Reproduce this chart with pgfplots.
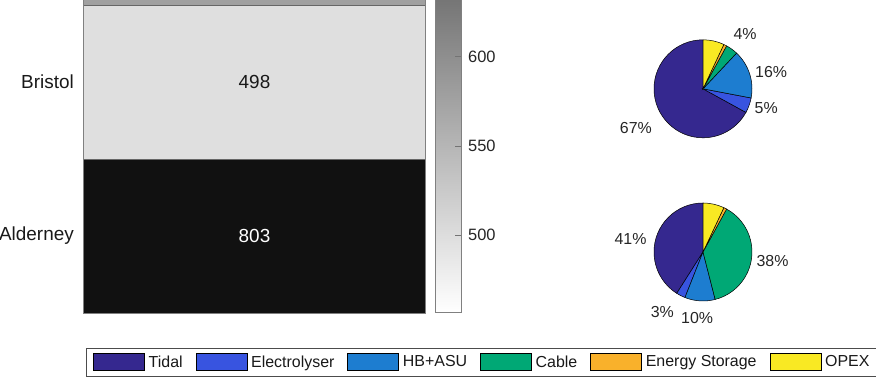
\documentclass[border=0pt]{standalone}
\usepackage{fontspec}
\setmainfont{Liberation Sans}
\usepackage{pgfplots}
\pgfplotsset{compat=1.18}
\usepackage{pgfplotstable}

\definecolor{cTidal}{HTML}{35288F}
\definecolor{cElec}{HTML}{3854E0}
\definecolor{cHB}{HTML}{1D7DD0}
\definecolor{cCable}{HTML}{00A875}
\definecolor{cES}{HTML}{F9B12B}
\definecolor{cOPEX}{HTML}{F9E923}

% heatmap cells (second column lies outside the axis; it only gives the cells a width)
\pgfplotstableread{
x y c
0 1 803
1 1 803
0 2 498
1 2 498
0 3 578
1 3 578
}\heatdata

\pgfplotsset{
  hmcolormap/.style={colormap={hm}{rgb255(0cm)=(255,255,255); rgb255(30.3cm)=(17,17,17); rgb255(34.6cm)=(17,17,17)},
    point meta min=457, point meta max=803},
}

\begin{document}
\begin{tikzpicture}
\path[use as bounding box] (0,0) rectangle (876bp,377bp);
\clip (0,0) rectangle (876bp,377bp);

% ---------------- heatmap
\begin{axis}[
  at={(83.5bp,64bp)}, anchor=south west,
  width=342bp, height=462bp, scale only axis,
  xmin=-0.5, xmax=0.5, ymin=0.5, ymax=3.5,
  xtick=\empty, ytick={1,2,3}, yticklabels={Alderney,Bristol,{}},
  minor ytick={1.5,2.5}, yminorgrids,
  minor grid style={draw=black!60, line width=0.6bp},
  tick style={draw=none}, major tick length=0pt, minor tick length=0pt,
  yticklabel style={font=\fontsize{19}{19}\selectfont, text=black!90, inner sep=0pt, anchor=east, xshift=-9.5bp},
  axis line style={draw=black!50, line width=0.6bp},
  hmcolormap,
  axis on top,
]
\addplot[matrix plot*, mesh/cols=2, point meta=explicit] table[meta=c]{\heatdata};
\addplot[only marks, mark=none, nodes near coords, point meta=explicit symbolic,
  nodes near coords style={anchor=center, inner sep=0pt, font=\fontsize{19}{19}\selectfont, text=white}]
  coordinates {(0,1) [803]};
\addplot[only marks, mark=none, nodes near coords, point meta=explicit symbolic,
  nodes near coords style={anchor=center, inner sep=0pt, font=\fontsize{19}{19}\selectfont, text=black!90}]
  coordinates {(0,2) [498]};
\end{axis}

% ---------------- colorbar
\begin{axis}[
  at={(435bp,65bp)}, anchor=south west,
  width=26bp, height=505.4bp, scale only axis,
  xmin=0, xmax=1, ymin=457, ymax=740,
  xtick=\empty, ytick={500,550,600},
  ytick pos=right, yticklabel pos=right, tick align=inside, major tick length=6bp,
  tick style={draw=black!55, line width=0.6bp},
  yticklabel style={font=\fontsize{16.5}{16.5}\selectfont, text=black!85, inner sep=0pt, anchor=west, xshift=7bp},
  /pgf/number format/assume math mode=true,
  axis line style={draw=black!50, line width=0.6bp},
  hmcolormap,
  axis on top,
]
\addplot[patch, shader=interp, point meta=y]
  coordinates {(0,457) (1,457) (1,740) (0,457) (1,740) (0,740)};
\end{axis}

% ---------------- pies (radius = 1 axis unit = 49bp)
\begin{axis}[
  at={(605bp,27bp)}, anchor=south west,
  width=196bp, height=359.2bp, scale only axis,
  xmin=-2, xmax=2, ymin=-2, ymax=5.33,
  hide axis, clip=false,
  legend columns=6,
  legend image code/.code={\draw[#1] (0bp,-8.5bp) rectangle (51bp,8.5bp);},
  legend style={at={(axis description cs:-2.648,-0.0724)}, anchor=south west,
    draw=black!70, line width=0.5bp, inner xsep=7bp, inner ysep=5bp,
    font=\fontsize{16}{16}\selectfont, text=black!90,
    nodes={inner sep=0pt},
    /tikz/every odd column/.append style={column sep=4bp},
    /tikz/every even column/.append style={column sep=13bp}},
]
% Bristol pie: Tidal 67, Electrolyser 5, HB+ASU 16, Cable 4, Energy Storage 1, OPEX 7 (%)
\addplot[fill=cTidal, draw=black, line width=0.5bp, forget plot] coordinates {(0,3.33)}
  -- ++(90:49bp) arc[start angle=90, end angle=331.2, radius=49bp] -- cycle;
\addplot[fill=cElec, draw=black, line width=0.5bp, forget plot] coordinates {(0,3.33)}
  -- ++(331.2:49bp) arc[start angle=331.2, end angle=349.2, radius=49bp] -- cycle;
\addplot[fill=cHB, draw=black, line width=0.5bp, forget plot] coordinates {(0,3.33)}
  -- ++(349.2:49bp) arc[start angle=349.2, end angle=406.8, radius=49bp] -- cycle;
\addplot[fill=cCable, draw=black, line width=0.5bp, forget plot] coordinates {(0,3.33)}
  -- ++(406.8:49bp) arc[start angle=406.8, end angle=421.2, radius=49bp] -- cycle;
\addplot[fill=cES, draw=black, line width=0.5bp, forget plot] coordinates {(0,3.33)}
  -- ++(421.2:49bp) arc[start angle=421.2, end angle=424.8, radius=49bp] -- cycle;
\addplot[fill=cOPEX, draw=black, line width=0.5bp, forget plot] coordinates {(0,3.33)}
  -- ++(424.8:49bp) arc[start angle=424.8, end angle=450, radius=49bp] -- cycle;
% Alderney pie: Tidal 41, Electrolyser 3, HB+ASU 10, Cable 38, Energy Storage 1, OPEX 7 (%)
\addplot[fill=cTidal, draw=black, line width=0.5bp] coordinates {(0,0)}
  -- ++(90:49bp) arc[start angle=90, end angle=237.6, radius=49bp] -- cycle;
\addlegendentry{Tidal}
\addplot[fill=cElec, draw=black, line width=0.5bp] coordinates {(0,0)}
  -- ++(237.6:49bp) arc[start angle=237.6, end angle=248.4, radius=49bp] -- cycle;
\addlegendentry{Electrolyser}
\addplot[fill=cHB, draw=black, line width=0.5bp] coordinates {(0,0)}
  -- ++(248.4:49bp) arc[start angle=248.4, end angle=284.4, radius=49bp] -- cycle;
\addlegendentry{HB+ASU}
\addplot[fill=cCable, draw=black, line width=0.5bp] coordinates {(0,0)}
  -- ++(284.4:49bp) arc[start angle=284.4, end angle=421.2, radius=49bp] -- cycle;
\addlegendentry{Cable}
\addplot[fill=cES, draw=black, line width=0.5bp] coordinates {(0,0)}
  -- ++(421.2:49bp) arc[start angle=421.2, end angle=424.8, radius=49bp] -- cycle;
\addlegendentry{Energy Storage}
\addplot[fill=cOPEX, draw=black, line width=0.5bp] coordinates {(0,0)}
  -- ++(424.8:49bp) arc[start angle=424.8, end angle=450, radius=49bp] -- cycle;
\addlegendentry{OPEX}
% percentage labels
\addplot[only marks, mark=none, forget plot, nodes near coords, point meta=explicit symbolic,
  nodes near coords style={anchor=center, inner sep=0pt, font=\fontsize{16}{16}\selectfont, text=black!85}]
  coordinates {(0.86,4.44) [4\%] (1.39,3.67) [16\%] (1.29,2.93) [5\%] (-1.37,2.52) [67\%]
               (-1.48,0.26) [41\%] (1.42,-0.19) [38\%] (-0.83,-1.22) [3\%] (-0.12,-1.34) [10\%]};
\end{axis}
\end{tikzpicture}
\end{document}
